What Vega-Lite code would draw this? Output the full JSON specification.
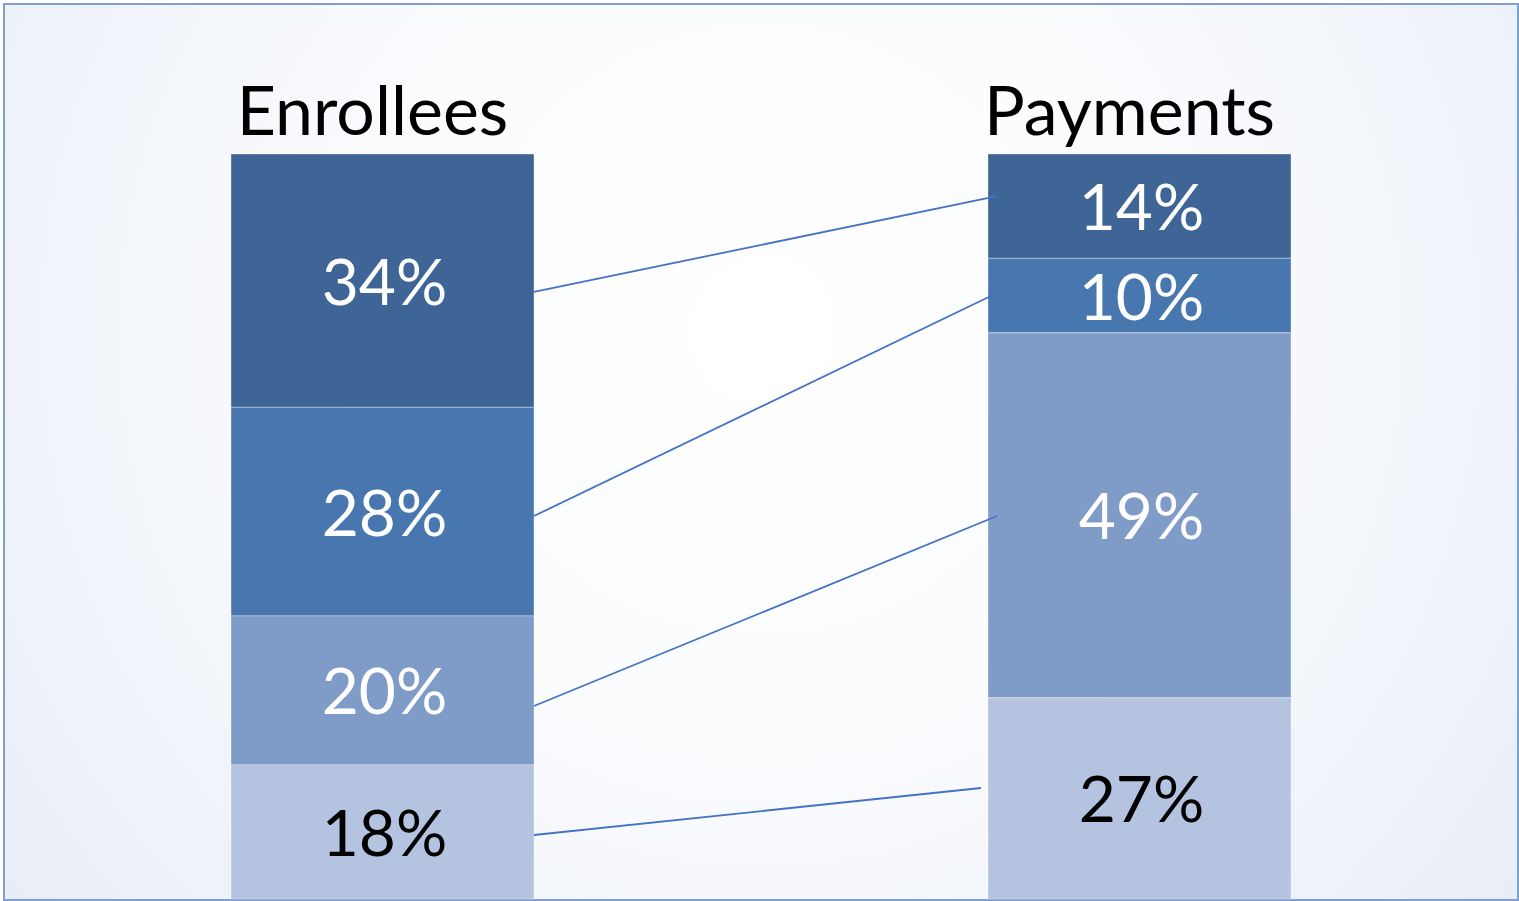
{
  "$schema": "https://vega.github.io/schema/vega-lite/v6.json",
  "width": 1519,
  "height": 901,
  "autosize": {"type": "fit", "contains": "padding"},
  "padding": {"left": 4, "top": 4, "right": 1, "bottom": 1},
  "background": "#ffffff",
  "config": {
    "font": "Lato",
    "view": {
      "fill": {
        "gradient": "radial",
        "x1": 0.5, "y1": 0.42, "r1": 0,
        "x2": 0.5, "y2": 0.42, "r2": 0.75,
        "stops": [
          {"offset": 0, "color": "#ffffff"},
          {"offset": 0.35, "color": "#fbfcfe"},
          {"offset": 1, "color": "#e2e9f4"}
        ]
      },
      "stroke": "#7f9fd0",
      "strokeWidth": 2
    }
  },
  "datasets": {
    "shares": [
      {"group": "Enrollees", "tier": "Tier 1", "rank": 1, "share": 34},
      {"group": "Enrollees", "tier": "Tier 2", "rank": 2, "share": 28},
      {"group": "Enrollees", "tier": "Tier 3", "rank": 3, "share": 20},
      {"group": "Enrollees", "tier": "Tier 4", "rank": 4, "share": 18},
      {"group": "Payments", "tier": "Tier 1", "rank": 1, "share": 14},
      {"group": "Payments", "tier": "Tier 2", "rank": 2, "share": 10},
      {"group": "Payments", "tier": "Tier 3", "rank": 3, "share": 49},
      {"group": "Payments", "tier": "Tier 4", "rank": 4, "share": 27}
    ],
    "links": [
      {"tier": "Tier 1", "from_x": 0.2001, "from_y": 81.48, "to_x": 0.8118, "to_y": 94.36},
      {"tier": "Tier 2", "from_x": 0.2001, "from_y": 51.41, "to_x": 0.8118, "to_y": 81.34},
      {"tier": "Tier 3", "from_x": 0.2001, "from_y": 25.91, "to_x": 0.8118, "to_y": 51.41},
      {"tier": "Tier 4", "from_x": 0.2001, "from_y": 8.59, "to_x": 0.7906, "to_y": 14.9}
    ]
  },
  "layer": [
    {
      "data": {"name": "shares"},
      "transform": [
        {"stack": "share", "groupby": ["group"], "sort": [{"field": "rank", "order": "descending"}], "as": ["y0", "y1"]}
      ],
      "mark": {"type": "bar", "width": 303, "stroke": "#ffffff", "strokeWidth": 1, "strokeOpacity": 0.35},
      "encoding": {
        "x": {"field": "group", "type": "nominal", "scale": {"type": "point", "padding": 0.5}, "axis": null},
        "y": {"field": "y0", "type": "quantitative", "scale": {"domain": [-0.134, 120.134], "nice": false, "zero": false}, "axis": null},
        "y2": {"field": "y1"},
        "color": {
          "field": "tier", "type": "nominal",
          "scale": {"domain": ["Tier 1", "Tier 2", "Tier 3", "Tier 4"], "range": ["#3e6596", "#4877b0", "#7f9cc8", "#b4c3df"]},
          "legend": null
        }
      }
    },
    {
      "data": {"name": "links"},
      "mark": {"type": "rule", "color": "#4472c4", "strokeWidth": 1.8},
      "encoding": {
        "x": {"field": "from_x", "type": "quantitative", "scale": {"domain": [-0.5, 1.5], "nice": false, "zero": false}, "axis": null},
        "x2": {"field": "to_x"},
        "y": {"field": "from_y", "type": "quantitative"},
        "y2": {"field": "to_y"}
      }
    },
    {
      "data": {"name": "shares"},
      "transform": [
        {"stack": "share", "groupby": ["group"], "sort": [{"field": "rank", "order": "descending"}], "as": ["y0", "y1"]},
        {"calculate": "(datum.y0 + datum.y1) / 2", "as": "mid"},
        {"calculate": "datum.share + '%'", "as": "label"}
      ],
      "mark": {"type": "text", "fontSize": 64, "align": "center", "baseline": "alphabetic", "dx": 2, "dy": 24},
      "encoding": {
        "x": {"field": "group", "type": "nominal", "scale": {"type": "point", "padding": 0.5}, "axis": null},
        "y": {"field": "mid", "type": "quantitative"},
        "text": {"field": "label"},
        "color": {"condition": {"test": "datum.rank === 4", "value": "#000000"}, "value": "#ffffff"}
      }
    },
    {
      "data": {"name": "shares"},
      "transform": [{"filter": "datum.rank === 1"}],
      "mark": {"type": "text", "fontSize": 68, "align": "center", "baseline": "alphabetic", "dx": -10, "dy": -19, "color": "#000000"},
      "encoding": {
        "x": {"field": "group", "type": "nominal", "scale": {"type": "point", "padding": 0.5}, "axis": null},
        "y": {"datum": 100},
        "text": {"field": "group"}
      }
    }
  ],
  "resolve": {"scale": {"x": "independent"}}
}
